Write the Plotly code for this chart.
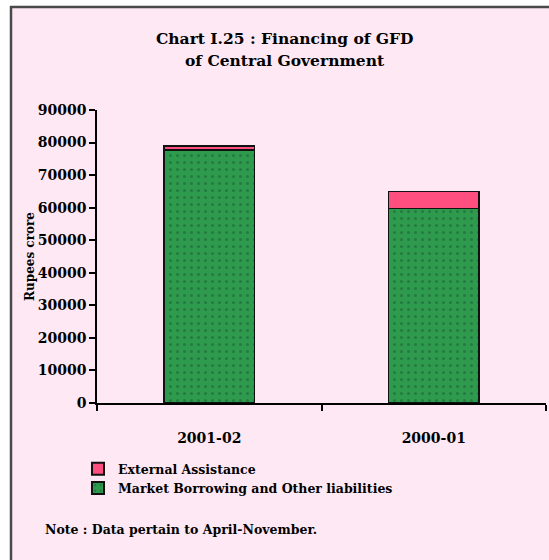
import plotly.graph_objects as go

# ---- data ----
categories = ["2001-02", "2000-01"]
market_borrowing = [77700, 59800]
external_assistance = [1200, 5100]
series_names = ["Market Borrowing and Other liabilities", "External Assistance"]
y_ticks = [0, 10000, 20000, 30000, 40000, 50000, 60000, 70000, 80000, 90000]

FONT = "DejaVu Serif"
GREEN = "#2E9A4E"
PINK = "#FF4F80"
BG = "#FDE8F3"

# pixel geometry helpers (plot area: x 97..546, y 110..403)
W, H = 549, 560
L, R, T, B = 97, 546, 110, 403


def px(x):
    return (x - L) / (R - L)


def py(y):
    return (B - y) / (B - T)


fig = go.Figure()
fig.add_trace(go.Bar(
    x=categories, y=market_borrowing, name=series_names[0],
    marker=dict(color=GREEN, line=dict(color="#111111", width=1.5),
                pattern=dict(shape=".", fgcolor="#1c5a30", size=7, solidity=0.15)),
))
fig.add_trace(go.Bar(
    x=categories, y=external_assistance, name=series_names[1],
    marker=dict(color=PINK, line=dict(color="#111111", width=1.5)),
))

fig.update_layout(
    width=W, height=H,
    barmode="stack", bargap=0.595,
    paper_bgcolor=BG, plot_bgcolor="rgba(0,0,0,0)",
    margin=dict(l=L, r=W - R, t=T, b=H - B, pad=0, autoexpand=False),
    font=dict(family=FONT, color="#000000"),
    showlegend=True,
    legend=dict(
        x=px(78), y=py(454), xanchor="left", yanchor="top",
        traceorder="reversed", bgcolor="rgba(0,0,0,0)",
        font=dict(family=FONT, size=12.5, color="#000000", weight="bold"),
        tracegroupgap=0, itemsizing="constant",
    ),
    xaxis=dict(
        type="category", showline=True, linecolor="#000000", linewidth=1.5,
        ticks="outside", tickson="boundaries", ticklen=6, tickcolor="#000000", tickwidth=1.5,
        tickfont=dict(family=FONT, size=14, color="#000000", weight="bold"),
        ticklabelstandoff=21, showgrid=False, zeroline=False, automargin=False,
    ),
    yaxis=dict(
        range=[0, 90000], tickvals=y_ticks, tickformat="d", showline=True,
        linecolor="#000000", linewidth=1.5,
        ticks="outside", ticklen=6, tickcolor="#000000", tickwidth=1.5,
        tickfont=dict(family=FONT, size=14, color="#000000", weight="bold"),
        showgrid=False, zeroline=False, automargin=False,
        title=dict(text="Rupees crore", font=dict(family=FONT, size=12, color="#000000", weight="bold"),
                   standoff=1),
    ),
)

# white outer margins and frame lines (top and left)
fig.add_shape(type="rect", xref="paper", yref="paper", x0=px(0), x1=px(10.5), y0=py(H), y1=py(0),
              fillcolor="#FFFFFF", line=dict(width=0), layer="below")
fig.add_shape(type="rect", xref="paper", yref="paper", x0=px(0), x1=px(W), y0=py(6), y1=py(0),
              fillcolor="#FFFFFF", line=dict(width=0), layer="below")
fig.add_shape(type="line", xref="paper", yref="paper", x0=px(11), x1=px(11), y0=py(H), y1=py(6),
              line=dict(color="#4a4a4a", width=2.5))
fig.add_shape(type="line", xref="paper", yref="paper", x0=px(10), x1=px(W), y0=py(7), y1=py(7),
              line=dict(color="#4a4a4a", width=2.5))

# title
fig.add_annotation(text="Chart I.25 : Financing of GFD", xref="paper", yref="paper",
                   x=px(285), y=py(39), xanchor="center", yanchor="middle", showarrow=False,
                   font=dict(family=FONT, size=15.5, color="#000000", weight="bold"))
fig.add_annotation(text="of Central Government", xref="paper", yref="paper",
                   x=px(285), y=py(61), xanchor="center", yanchor="middle", showarrow=False,
                   font=dict(family=FONT, size=15.5, color="#000000", weight="bold"))
# note
fig.add_annotation(text="Note : Data pertain to April-November.", xref="paper", yref="paper",
                   x=px(43), y=py(529), xanchor="left", yanchor="middle", showarrow=False,
                   font=dict(family=FONT, size=12.5, color="#000000", weight="bold"))

fig.write_html("out.html", config={"displayModeBar": False},
               post_script="document.body.style.margin='0';")
